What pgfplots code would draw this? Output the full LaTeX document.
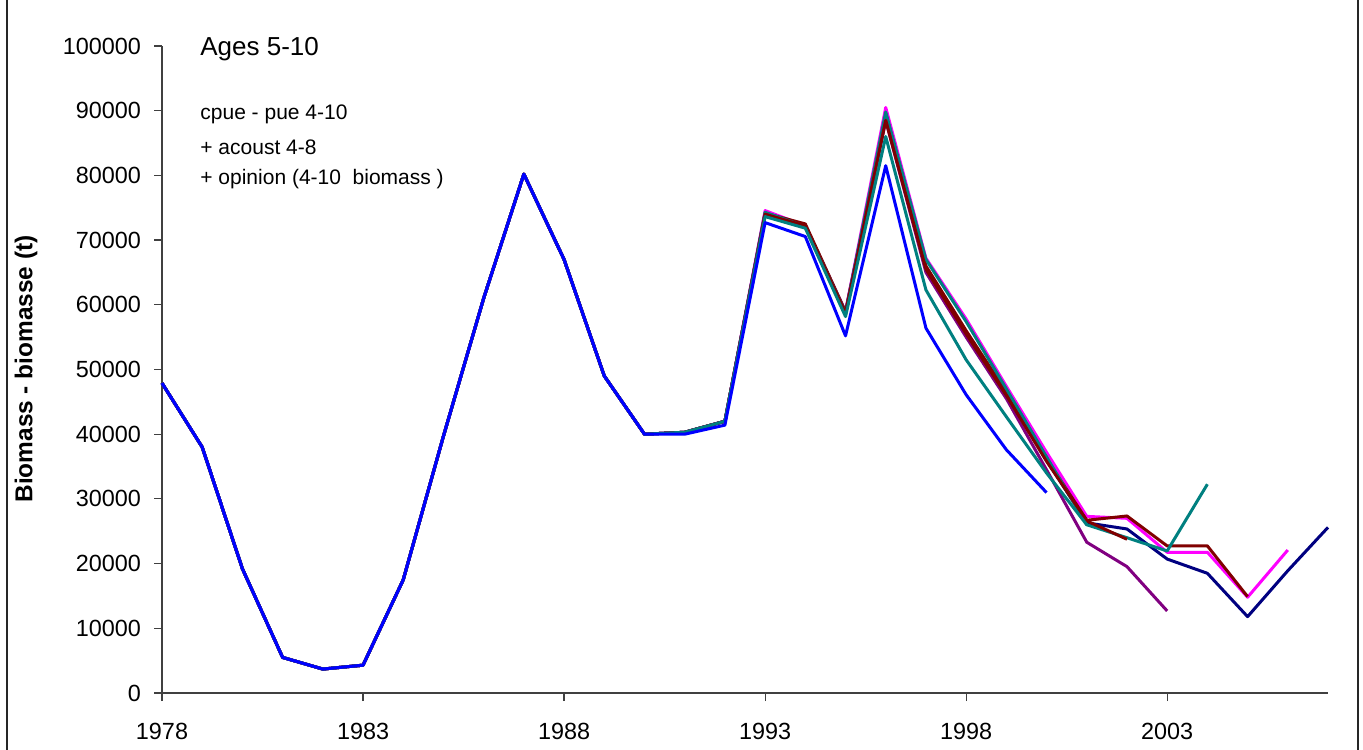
\documentclass[border=0pt]{standalone}
\usepackage{pgfplots}
\pgfplotsset{compat=1.18}
\usepackage{fontspec}
\setmainfont{Liberation Sans}
\definecolor{cNavy}{HTML}{000080}
\definecolor{cMag}{HTML}{FF00FF}
\definecolor{cMaroon}{HTML}{800000}
\definecolor{cTeal}{HTML}{008080}
\definecolor{cPurple}{HTML}{800080}
\definecolor{cBlue}{HTML}{0000FF}
\begin{document}
\begin{tikzpicture}
\begin{axis}[
  at={(81bp,28.5bp)}, anchor=south west,
  scale only axis, width=583bp, height=323.5bp,
  xmin=1978, xmax=2007, ymin=0, ymax=100000,
  axis lines*=left,
  axis line style={black!75, line width=0.6bp},
  xtick={1978,1983,1988,1993,1998,2003},
  ytick={0,10000,...,100000},
  tick align=outside, major tick length=4bp,
  tick style={black!75, line width=0.6bp},
  /pgf/number format/.cd, fixed, precision=0, 1000 sep={}, assume math mode=true, /pgfplots/.cd,
  scaled y ticks=false,
  tick label style={font=\fontsize{11.7bp}{13bp}\selectfont},
  xticklabel style={yshift=-7.5bp},
  yticklabel style={xshift=-3bp},
  every axis plot/.append style={line width=1.5bp, line join=round},
  clip=false,
]
% L2007 navy
\addplot[cNavy] coordinates {(1978,47900)(1979,38000)(1980,19200)(1981,5500)(1982,3700)(1983,4300)(1984,17500)(1985,39700)(1986,61000)(1987,80200)(1988,67000)(1989,49000)(1990,40000)(1991,40300)(1992,42000)(1993,74100)(1994,72300)(1995,58800)(1996,88800)(1997,65800)(1998,55800)(1999,46200)(2000,36000)(2001,26300)(2002,25350)(2003,20700)(2004,18500)(2005,11800)(2006,18900)(2007,25600)};
% L2006 magenta
\addplot[cMag] coordinates {(1978,47900)(1979,38000)(1980,19200)(1981,5500)(1982,3700)(1983,4300)(1984,17500)(1985,39700)(1986,61000)(1987,80200)(1988,67000)(1989,49000)(1990,40000)(1991,40300)(1992,42000)(1993,74560)(1994,72200)(1995,59000)(1996,90500)(1997,67200)(1998,57800)(1999,47400)(2000,37200)(2001,27300)(2002,27000)(2003,21750)(2004,21750)(2005,14800)(2006,22100)};
% L2005 maroon
\addplot[cMaroon] coordinates {(1978,47900)(1979,38000)(1980,19200)(1981,5500)(1982,3700)(1983,4300)(1984,17500)(1985,39700)(1986,61000)(1987,80200)(1988,67000)(1989,49000)(1990,40000)(1991,40300)(1992,42000)(1993,74160)(1994,72500)(1995,58950)(1996,88900)(1997,66000)(1998,56000)(1999,46500)(2000,36200)(2001,26700)(2002,27360)(2003,22730)(2004,22730)(2005,14900)};
% L2004 teal
\addplot[cTeal] coordinates {(1978,47900)(1979,38000)(1980,19200)(1981,5500)(1982,3700)(1983,4300)(1984,17500)(1985,39700)(1986,61000)(1987,80200)(1988,67000)(1989,49000)(1990,40000)(1991,40300)(1992,42000)(1993,74300)(1994,72100)(1995,58800)(1996,89800)(1997,67000)(1998,57400)(1999,47000)(2000,36500)(2001,26000)(2002,24000)(2003,21950)(2004,32270)};
% L2003 purple
\addplot[cPurple] coordinates {(1978,47900)(1979,38000)(1980,19200)(1981,5500)(1982,3700)(1983,4300)(1984,17500)(1985,39700)(1986,61000)(1987,80200)(1988,67000)(1989,49000)(1990,40000)(1991,40300)(1992,42000)(1993,74000)(1994,72000)(1995,58500)(1996,88500)(1997,65000)(1998,55000)(1999,45500)(2000,34500)(2001,23300)(2002,19530)(2003,12680)};
% L2002 maroon
\addplot[cMaroon] coordinates {(1978,47900)(1979,38000)(1980,19200)(1981,5500)(1982,3700)(1983,4300)(1984,17500)(1985,39700)(1986,61000)(1987,80200)(1988,67000)(1989,49000)(1990,40000)(1991,40300)(1992,42000)(1993,74000)(1994,72200)(1995,58700)(1996,88500)(1997,65500)(1998,55500)(1999,46000)(2000,35800)(2001,26600)(2002,23760)};
% L2001 teal
\addplot[cTeal] coordinates {(1978,47900)(1979,38000)(1980,19200)(1981,5500)(1982,3700)(1983,4300)(1984,17500)(1985,39700)(1986,61000)(1987,80200)(1988,67000)(1989,49000)(1990,40000)(1991,40300)(1992,42000)(1993,73630)(1994,71840)(1995,58180)(1996,86000)(1997,62300)(1998,51500)(1999,42700)(2000,34000)(2001,26000)};
% L2000 blue
\addplot[cBlue] coordinates {(1978,47900)(1979,38000)(1980,19200)(1981,5500)(1982,3700)(1983,4300)(1984,17500)(1985,39700)(1986,61000)(1987,80200)(1988,67000)(1989,49000)(1990,40000)(1991,40000)(1992,41400)(1993,72700)(1994,70550)(1995,55200)(1996,81500)(1997,56400)(1998,46100)(1999,37600)(2000,30970)};
\end{axis}
\pgfresetboundingbox
\path[use as bounding box] (0,0) rectangle (681.5bp,375bp);
\draw[black!85, line width=1.2bp] (3.6bp,-5bp) -- (3.6bp,380bp);
\draw[black!85, line width=1.2bp] (679bp,-5bp) -- (679bp,380bp);
\node[anchor=base west, font=\fontsize{13bp}{15bp}\selectfont, inner sep=0pt] at (100bp,347bp) {Ages 5-10};
\node[anchor=west, font=\fontsize{10.5bp}{12bp}\selectfont, inner sep=0pt] at (100bp,318bp) {cpue - pue 4-10};
\node[anchor=west, font=\fontsize{10.5bp}{12bp}\selectfont, inner sep=0pt] at (100bp,301.5bp) {+ acoust 4-8};
\node[anchor=west, font=\fontsize{10.5bp}{12bp}\selectfont, inner sep=0pt] at (100bp,285.5bp) {+ opinion (4-10\ \ biomass )};
\node[rotate=90, font=\bfseries\fontsize{12.2bp}{14bp}\selectfont, inner sep=0pt] at (13bp,190.5bp) {Biomass - biomasse (t)};
\end{tikzpicture}
\end{document}
